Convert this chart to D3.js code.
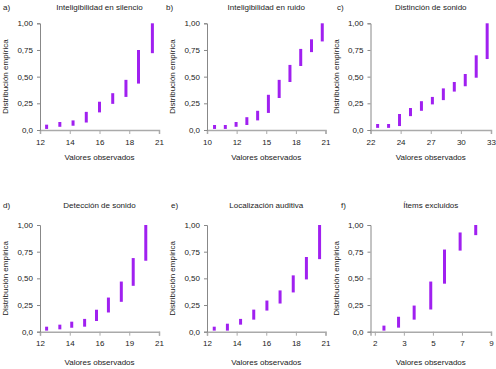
<!DOCTYPE html>
<html>
<head>
<meta charset="utf-8">
<script src="https://cdn.jsdelivr.net/npm/d3@7"></script>
<style>
  body { margin: 0; background: #fff; }
  text { font-family: "Liberation Sans", Arial, sans-serif; fill: #222; }
</style>
</head>
<body>
<div id="chart-area"></div>
<script>

// panel letters and titles
let panelLetters = ["a)", "b)", "c)", "d)", "e)", "f)"];
let panelTitles = ["Inteligibilidad en silencio", "Inteligibilidad en ruido", "Distinción de sonido",
	"Detección de sonido", "Localización auditiva", "Ítems excluidos"];

// x tick labels (evenly spaced between min and max)
let xTickLabels = [
	["12", "14", "16", "18", "21"],
	["10", "12", "15", "18", "21"],
	["22", "24", "27", "30", "33"],
	["12", "14", "16", "19", "21"],
	["12", "14", "16", "18", "21"],
	["2", "3", "5", "7", "9"]
];
let xTickRange = [[12, 21], [10, 21], [22, 33], [12, 21], [12, 21], [2, 9]];
let xAxisStart = [12, 10, 22, 12, 12, 1.74];

let yTicks = [0, 0.25, 0.5, 0.75, 1];
let yTickLabels = ["0,0", "0,25", "0,50", "0,75", "1,00"];

// observed values and the lower / upper empirical distribution at each value
let obsA = [12.5, 13.5, 14.5, 15.5, 16.5, 17.5, 18.5, 19.45, 20.5];
let lowA = [0.01, 0.03, 0.04, 0.07, 0.165, 0.245, 0.31, 0.435, 0.72];
let highA = [0.05, 0.075, 0.09, 0.17, 0.265, 0.345, 0.47, 0.75, 1.0];

let obsB = [10.7, 11.7, 12.7, 13.7, 14.7, 15.7, 16.7, 17.7, 18.7, 19.7, 20.7];
let lowB = [0.01, 0.01, 0.03, 0.047, 0.09, 0.16, 0.30, 0.45, 0.60, 0.73, 0.83];
let highB = [0.047, 0.047, 0.075, 0.12, 0.18, 0.33, 0.47, 0.61, 0.76, 0.85, 1.0];

let obsC = [22.65, 23.65, 24.65, 25.65, 26.65, 27.65, 28.65, 29.65, 30.65, 31.65, 32.65];
let lowC = [0.02, 0.02, 0.037, 0.13, 0.18, 0.24, 0.28, 0.36, 0.41, 0.49, 0.665];
let highC = [0.056, 0.056, 0.15, 0.206, 0.27, 0.31, 0.39, 0.45, 0.525, 0.70, 1.0];

let obsD = [12.5, 13.5, 14.4, 15.375, 16.275, 17.175, 18.15, 19.05, 20.0];
let lowD = [0.01, 0.022, 0.037, 0.047, 0.10, 0.18, 0.28, 0.43, 0.665];
let highD = [0.047, 0.066, 0.094, 0.12, 0.206, 0.32, 0.47, 0.69, 1.0];

let obsE = [12.55, 13.55, 14.55, 15.55, 16.55, 17.55, 18.55, 19.55, 20.55];
let lowE = [0.01, 0.01, 0.066, 0.113, 0.198, 0.264, 0.368, 0.49, 0.68];
let highE = [0.047, 0.075, 0.12, 0.207, 0.292, 0.387, 0.528, 0.70, 1.0];

let obsF = [2.55, 3.43, 4.37, 5.37, 6.2, 7.14, 8.08];
let lowF = [0.01, 0.038, 0.113, 0.208, 0.45, 0.76, 0.905];
let highF = [0.057, 0.14, 0.245, 0.47, 0.77, 0.93, 1.0];

let series = [
	[obsA, lowA, highA], [obsB, lowB, highB], [obsC, lowC, highC],
	[obsD, lowD, highD], [obsE, lowE, highE], [obsF, lowF, highF]
];

// layout
let width = 496, height = 369;
let colLeft = [40, 207, 370.5],
	colRight = [159, 325.5, 491],
	rowTop = [23.3, 225],
	rowBottom = [130, 331.7],
	titleGap = [13, 17],
	xLabelGap = [30, 33],
	letterX = [3, 166, 337, 3, 171, 341];

let svg = d3.select("#chart-area").append("svg")
	.attr("width", width)
	.attr("height", height);

series.forEach((s, i) => {
	let col = i % 3, row = Math.floor(i / 3);
	let x0 = colLeft[col], x1 = colRight[col];
	let y0 = rowBottom[row], y1 = rowTop[row];

	let xScale = d3.scaleLinear()
		.domain([xAxisStart[i], xTickRange[i][1]])
		.range([x0, x1]);
	let yScale = d3.scaleLinear()
		.domain([0, 1])
		.range([y0, y1]);

	let g = svg.append("g");

	// x axis
	let tickVals = d3.range(5).map(k => xTickRange[i][0] + k * (xTickRange[i][1] - xTickRange[i][0]) / 4);
	let xAxis = g.append("g")
		.attr("transform", "translate(0," + y0 + ")")
		.call(d3.axisBottom(xScale)
			.tickValues(tickVals)
			.tickFormat((d, k) => xTickLabels[i][k])
			.tickSizeOuter(0)
			.tickSize(4)
			.tickPadding(5));
	xAxis.select(".domain").attr("stroke", "#aaa").attr("stroke-width", 1.5);
	xAxis.selectAll(".tick line").attr("stroke", "#aaa");
	xAxis.selectAll("text").attr("font-size", 8).style("font-family", "Liberation Sans, Arial, sans-serif").attr("fill", "#222");

	// y axis
	let yAxis = g.append("g")
		.attr("transform", "translate(" + x0 + ",0)")
		.call(d3.axisLeft(yScale)
			.tickValues(yTicks)
			.tickFormat((d, k) => yTickLabels[k])
			.tickSizeOuter(0)
			.tickSize(3)
			.tickPadding(4));
	yAxis.select(".domain").attr("stroke", "#888");
	yAxis.selectAll(".tick line").attr("stroke", "#888");
	yAxis.selectAll("text").attr("font-size", 8).style("font-family", "Liberation Sans, Arial, sans-serif").attr("fill", "#222");

	// bars
	g.selectAll(".bar").data(s[0].map((v, k) => ({x: v, lo: s[1][k], hi: s[2][k]})))
		.enter()
		.append("line")
		.attr("class", "bar")
		.attr("x1", d => xScale(d.x))
		.attr("x2", d => xScale(d.x))
		.attr("y1", d => yScale(d.lo))
		.attr("y2", d => yScale(d.hi))
		.attr("stroke", "#a020f0")
		.attr("stroke-width", 3);

	// titles and labels
	let cx = (x0 + x1) / 2;
	g.append("text")
		.attr("x", cx)
		.attr("y", y1 - titleGap[row])
		.attr("text-anchor", "middle")
		.attr("font-size", 8)
		.text(panelTitles[i]);

	g.append("text")
		.attr("x", letterX[i])
		.attr("y", y1 - titleGap[row])
		.attr("font-size", 8)
		.text(panelLetters[i]);

	g.append("text")
		.attr("x", cx)
		.attr("y", y0 + xLabelGap[row])
		.attr("text-anchor", "middle")
		.attr("font-size", 8)
		.text("Valores observados");

	g.append("text")
		.attr("transform", "translate(" + (x0 - 32) + "," + ((y0 + y1) / 2) + ") rotate(-90)")
		.attr("text-anchor", "middle")
		.attr("font-size", 8)
		.text("Distribución empírica");
});

</script>
</body>
</html>
